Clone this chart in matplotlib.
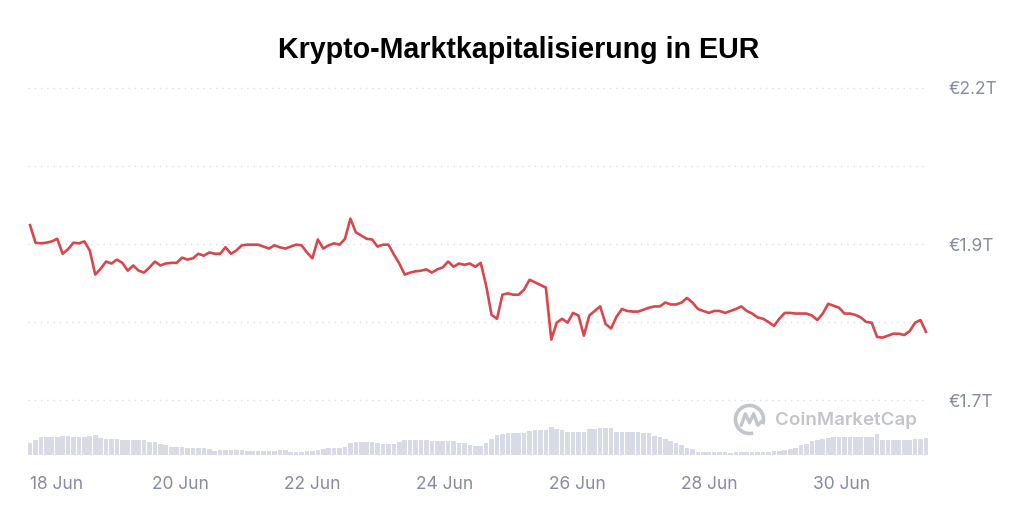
import numpy as np
import pandas as pd
import matplotlib
matplotlib.use("Agg")
import matplotlib.pyplot as plt
import matplotlib.transforms as mtrans
from matplotlib.patches import Arc

# Marktkapitalisierung in Mrd. EUR (2-Stunden-Werte)
cap_bn = [
    1959, 1932, 1931, 1932, 1934, 1938, 1915, 1922, 1932, 1931, 1934, 1920, 1883,
    1892, 1903, 1900, 1906, 1901, 1889, 1897, 1889, 1886, 1894, 1903, 1897, 1900,
    1901, 1901, 1909, 1906, 1908, 1915, 1912, 1917, 1915, 1915, 1925, 1915, 1920,
    1928, 1929, 1929, 1929, 1926, 1923, 1928, 1925, 1923, 1926, 1929, 1928, 1917,
    1908, 1937, 1923, 1928, 1931, 1929, 1938, 1969, 1948, 1943, 1938, 1937, 1926,
    1929, 1929, 1914, 1900, 1883, 1886, 1888, 1889, 1891, 1886, 1891, 1894, 1903,
    1895, 1900, 1898, 1900, 1895, 1901, 1866, 1821, 1815, 1852, 1854, 1852, 1852,
    1860, 1875, 1871, 1867, 1863, 1783, 1809, 1815, 1809, 1824, 1820, 1789, 1820,
    1827, 1834, 1807, 1800, 1818, 1830, 1827, 1826, 1826, 1829, 1832, 1834, 1834,
    1840, 1837, 1837, 1840, 1847, 1840, 1830, 1827, 1824, 1827, 1827, 1824, 1827,
    1830, 1834, 1827, 1823, 1817, 1815, 1810, 1804, 1815, 1824, 1824, 1823, 1823,
    1823, 1820, 1813, 1823, 1838, 1835, 1832, 1823, 1823, 1821, 1817, 1810, 1809,
    1787, 1786, 1789, 1792, 1792, 1790, 1796, 1809, 1813, 1795,
]

# Handelsvolumen (Mrd. EUR)
vol_bn = [
    48, 60, 72, 72, 72, 72, 76, 76, 72, 72, 72, 76, 80,
    68, 64, 64, 64, 60, 60, 60, 60, 60, 52, 52, 44, 40,
    32, 32, 32, 28, 28, 28, 28, 24, 16, 20, 20, 20, 20,
    20, 16, 16, 16, 16, 16, 16, 20, 20, 12, 12, 12, 16,
    16, 20, 24, 28, 28, 28, 32, 48, 52, 52, 52, 52, 48,
    44, 44, 44, 52, 60, 60, 60, 60, 60, 56, 56, 56, 56,
    56, 48, 48, 40, 36, 36, 48, 64, 80, 84, 88, 88, 88,
    88, 96, 100, 100, 100, 112, 104, 100, 92, 92, 92, 92, 104,
    104, 108, 108, 108, 92, 92, 92, 92, 92, 88, 88, 76, 72,
    64, 56, 48, 40, 28, 24, 12, 12, 12, 12, 12, 12, 8,
    12, 12, 12, 12, 12, 12, 12, 16, 16, 20, 24, 28, 40,
    44, 56, 60, 64, 68, 72, 72, 72, 72, 72, 72, 72, 72,
    84, 60, 60, 60, 60, 60, 60, 64, 64, 68,
]

t_start = "2024-06-17 17:36"
t_end = "2024-07-01 06:27"

tick_days = ["2024-06-18", "2024-06-20", "2024-06-22", "2024-06-24",
             "2024-06-26", "2024-06-28", "2024-06-30"]
tick_labels = ["18 Jun", "20 Jun", "22 Jun", "24 Jun", "26 Jun", "28 Jun", "30 Jun"]

y_ticks = [2170, 2050, 1930, 1810, 1690]
y_labels = ["€2.2T", "", "€1.9T", "", "€1.7T"]

times = pd.date_range(t_start, t_end, periods=len(cap_bn))

red = "#d9464c"
grey_txt = "#858ca2"
bar_col = "#d6dbe5"

fig = plt.figure(figsize=(10.24, 5.17), dpi=100)
rect = [28 / 1024, 62 / 517, 900 / 1024, 375 / 517]

# Volumen unten
vax = fig.add_axes(rect)
step = times[1] - times[0]
vax.bar(times, vol_bn, width=step * 0.85, color=bar_col, linewidth=0)
vax.set_ylim(0, 1500)
vax.axis("off")

# Preislinie
ax = fig.add_axes(rect, sharex=vax)
ax.set_zorder(2)
ax.patch.set_visible(False)
ax.plot(times, cap_bn, color=red, linewidth=1.9, solid_joinstyle="round")
ax.set_ylim(1605.4, 2182.3)
pad = pd.Timedelta(minutes=45)
ax.set_xlim(times[0] - pad, times[-1] + pad)

ax.yaxis.tick_right()
ax.set_yticks(y_ticks)
ax.set_yticklabels(y_labels)
ax.set_xticks(pd.to_datetime(tick_days))
ax.set_xticklabels(tick_labels)
ax.tick_params(axis="y", length=0, pad=14.5, labelsize=12.5, labelcolor=grey_txt)
ax.tick_params(axis="x", length=0, pad=15, labelsize=12.5, labelcolor=grey_txt)
for lab in ax.get_xticklabels() + ax.get_yticklabels():
    lab.set_fontfamily("Inter")
# erstes Datum etwas nach rechts wie im Original
first = ax.get_xticklabels()[0]
first.set_transform(first.get_transform() +
                    mtrans.ScaledTranslation(9 / 100, 0, fig.dpi_scale_trans))
ax.grid(axis="y", color="#dcdfe5", linestyle=(0, (1, 3.5)), linewidth=1)
for s in ax.spines.values():
    s.set_visible(False)

fig.text(0.506, 1 - 58.3 / 517, "Krypto-Marktkapitalisierung in EUR",
         ha="center", va="baseline", fontsize=20.6, fontweight="bold",
         family="Liberation Sans", color="#000000")

# Wasserzeichen
wm = "#c1c5cc"
fig.text(775 / 1024, 1 - 420 / 517, "CoinMarketCap", ha="left", va="center",
         fontsize=13.5, fontweight="semibold", family="Inter", color=wm)
lax = fig.add_axes([733 / 1024, 1 - 436 / 517, 33 / 1024, 33 / 517])
lax.set_xlim(-1, 1)
lax.set_ylim(-1, 1)
lax.axis("off")
lax.add_patch(Arc((0, 0), 1.7, 1.7, theta1=-20, theta2=285, color=wm, linewidth=2.6))
lax.plot([-0.5, -0.25, 0.0, 0.25, 0.5, 0.75], [-0.35, 0.35, -0.2, 0.35, -0.35, -0.1],
         color=wm, linewidth=2.4, solid_capstyle="round", solid_joinstyle="round")

fig.savefig("out.png", dpi=100)
